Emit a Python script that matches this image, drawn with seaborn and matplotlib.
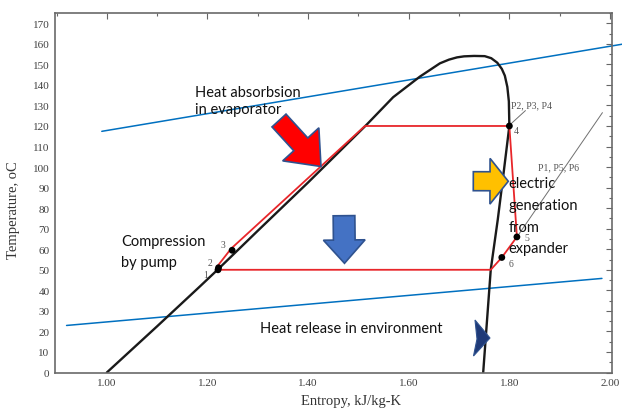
import numpy as np
import pandas as pd
import matplotlib
matplotlib.use("Agg")
import matplotlib.pyplot as plt
import matplotlib.patches as mpatches
import matplotlib.transforms as mtransforms
from matplotlib.ticker import MultipleLocator, FormatStrFormatter
import seaborn as sns

# ---------------- data ----------------
# saturation dome (liquid line -> top -> vapour line)
dome_s = [1.000, 1.100, 1.185, 1.220, 1.300, 1.400, 1.517, 1.569, 1.622, 1.662,
          1.680, 1.696, 1.710, 1.730, 1.751, 1.764, 1.776, 1.785, 1.791, 1.796,
          1.799, 1.800, 1.787, 1.777, 1.763, 1.748]
dome_T = [0.0, 22.5, 41.9, 50.0, 69.0, 92.5, 120.8, 134.0, 144.0, 150.5,
          152.3, 153.4, 153.9, 154.1, 154.0, 153.0, 150.8, 147.8, 144.5, 139.0,
          132.0, 120.0, 94.0, 74.5, 50.0, 0.0]

# ORC cycle path (red)
cycle_s = [1.221, 1.219, 1.247, 1.513, 1.800, 1.815, 1.785, 1.763, 1.221]
cycle_T = [50.0, 51.5, 60.3, 120.0, 120.0, 66.0, 56.0, 50.0, 50.0]

# state points
point_names = ["1", "2", "3", "4", "5", "6"]
point_s = [1.221, 1.222, 1.249, 1.800, 1.815, 1.785]
point_T = [50.0, 51.0, 59.5, 120.0, 66.0, 56.0]

# heat source / sink lines (blue)
source_s = [0.990, 2.024]
source_T = [117.4, 159.8]
sink_s = [0.920, 1.984]
sink_T = [22.9, 45.8]

# isobar leader lines (grey)
p_high_s = [1.803, 1.832]
p_high_T = [121.0, 127.5]
p_low_s = [1.818, 1.985]
p_low_T = [67.0, 126.5]

x_ticks = [1.00, 1.20, 1.40, 1.60, 1.80, 2.00]
y_ticks = list(range(0, 171, 10))

# ---------------- style ----------------
sns.set_theme(style="white")
plt.rcParams['font.family'] = ['Liberation Serif', 'DejaVu Serif']

W, H = 622, 410
fig = plt.figure(figsize=(W / 100, H / 100), dpi=100)
ax = fig.add_axes([55 / W, 1 - 373.5 / H, 557 / W, 359.5 / H])

# pixel transform (image coordinates, origin top-left)
px = mtransforms.Affine2D().scale(1 / W, -1 / H).translate(0, 1) + fig.transFigure

# ---------------- lines ----------------
sns.lineplot(x=source_s, y=source_T, sort=False, estimator=None,
             color="#0070C0", lw=1.1, ax=ax)
ax.lines[-1].set_clip_on(False)
sns.lineplot(x=sink_s, y=sink_T, sort=False, estimator=None,
             color="#0070C0", lw=1.1, ax=ax)
sns.lineplot(x=p_high_s, y=p_high_T, sort=False, estimator=None,
             color="#707070", lw=0.7, ax=ax)
sns.lineplot(x=p_low_s, y=p_low_T, sort=False, estimator=None,
             color="#707070", lw=0.7, ax=ax)
sns.lineplot(x=dome_s, y=dome_T, sort=False, estimator=None,
             color="#1a1a1a", lw=1.7, ax=ax)
sns.scatterplot(x=point_s, y=point_T, color="black", s=24, edgecolor="none",
                ax=ax, zorder=5)
sns.lineplot(x=cycle_s, y=cycle_T, sort=False, estimator=None,
             color="#e8262a", lw=1.3, ax=ax)

label_offsets = [(-8.6, -3.7), (-5.8, 4.1), (-6.5, 4.3), (5.0, -3.6), (7.0, -0.3), (6.5, -4.3)]
for name, s, t, off in zip(point_names, point_s, point_T, label_offsets):
    ax.annotate(name, (s, t), xytext=off, textcoords="offset points",
                ha="center", va="center", fontsize=7, color="#555555")

ax.text(1.803, 130.5, "P2, P3, P4", fontsize=7, color="#555555", ha="left", va="center")
ax.text(1.857, 100.0, "P1, P5, P6", fontsize=7, color="#555555", ha="left", va="center")

# ---------------- axes ----------------
ax.set_xlim(0.897, 2.004)
ax.set_ylim(0, 175)
ax.set_xticks(x_ticks)
ax.set_yticks(y_ticks)
ax.xaxis.set_major_formatter(FormatStrFormatter("%.2f"))
ax.xaxis.set_minor_locator(MultipleLocator(0.1))
ax.yaxis.set_minor_locator(MultipleLocator(5))
ax.tick_params(which="both", direction="in", top=True, right=True,
               color="#666666", width=0.8, labelsize=8, labelcolor="#404040")
ax.tick_params(which="major", length=4, pad=4)
ax.tick_params(which="minor", length=2.5)
for sp in ax.spines.values():
    sp.set_color("#6a6a6a")
    sp.set_linewidth(1.2)
ax.set_xlabel("Entropy, kJ/kg-K", fontsize=10.5, color="#333333")
ax.set_ylabel("Temperature, oC", fontsize=10.5, color="#333333")
ax.xaxis.set_label_coords(0.531, -0.060)
ax.yaxis.set_label_coords(-0.062, 0.455)

# ---------------- annotation text ----------------
sans = ["Lato", "DejaVu Sans"]
tkw = dict(fontsize=10.5, color="#111111", family=sans, ha="left", va="baseline", zorder=7)
ax.text(1.175, 134.6, "Heat absorbsion", **tkw)
ax.text(1.175, 126.2, "in evaporator", **tkw)
ax.text(1.028, 61.9, "Compression", **tkw)
ax.text(1.028, 51.8, "by pump", **tkw)
ax.text(1.304, 19.5, "Heat release in environment", **tkw)
ax.text(1.799, 90.1, "electric", **tkw)
ax.text(1.799, 79.6, "generation", **tkw)
ax.text(1.799, 68.9, "from", **tkw)
ax.text(1.799, 58.6, "expander", **tkw)

# ---------------- block arrows (pixel space) ----------------
edge = "#2F528F"
def block_arrow(x0, y0, x1, y1, w, hw, hl, fc):
    a = mpatches.FancyArrow(x0, y0, x1 - x0, y1 - y0, width=w, head_width=hw,
                            head_length=hl, length_includes_head=True,
                            transform=px, fc=fc, ec=edge, lw=1.2, zorder=8)
    fig.patches.append(a)

block_arrow(279, 121.5, 321, 167.5, 19, 49, 30, "#FF0000")
block_arrow(344, 216.7, 344.5, 264.3, 21.7, 41.7, 23.3, "#4472C4")
block_arrow(473.3, 182.2, 508.3, 182.3, 19, 45.7, 18.3, "#FFC000")
tri = mpatches.Polygon([(475, 321), (490, 339), (473.5, 357), (477, 340)], closed=True,
                       transform=px, fc="#1F3A78", ec="#2F528F", lw=0.8, zorder=8)
fig.patches.append(tri)

fig.savefig("out.png", dpi=100)
